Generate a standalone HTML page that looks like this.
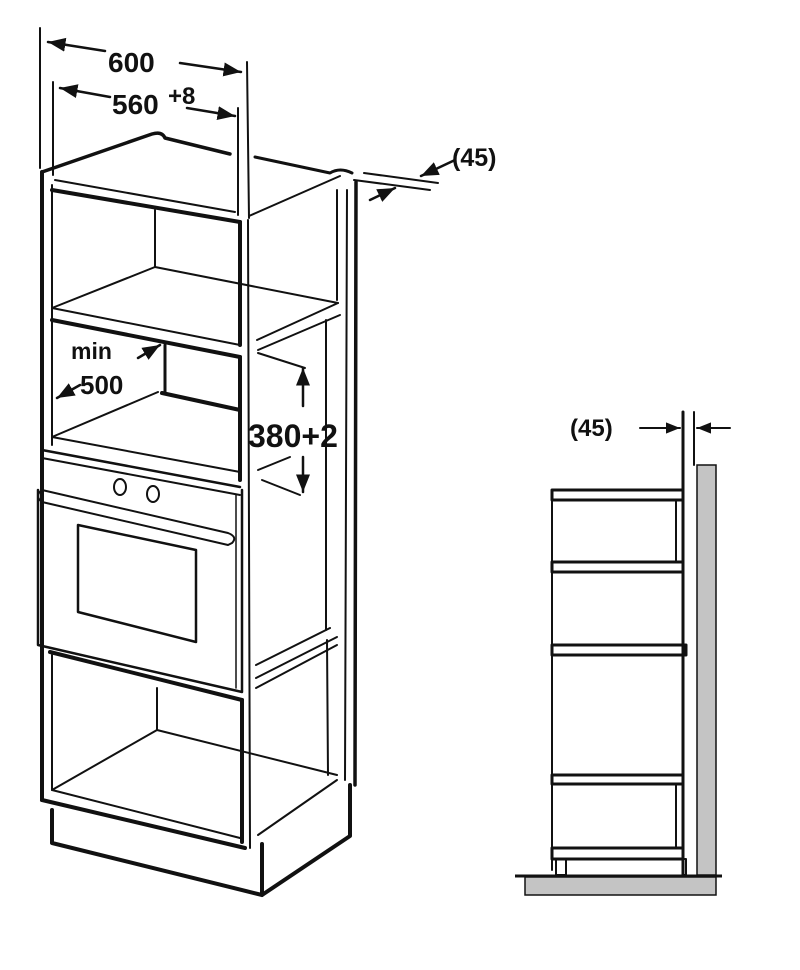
<!DOCTYPE html>
<html><head><meta charset="utf-8"><style>
html,body{margin:0;padding:0;background:#fff;}
svg{display:block;}
text{font-family:"Liberation Sans",sans-serif;font-weight:bold;fill:#111;}
</style></head><body>
<svg width="800" height="970" viewBox="0 0 800 970" xmlns="http://www.w3.org/2000/svg">
<defs>
<marker id="a" viewBox="0 0 10 10" refX="10" refY="5" markerWidth="7" markerHeight="7" orient="auto-start-reverse"><path d="M0,1 L10,5 L0,9 z" fill="#111"/></marker>
</defs>
<g stroke="#111" fill="none" stroke-linecap="round" stroke-linejoin="round">
<line x1="40" y1="28" x2="40" y2="168" stroke-width="2"/>
<line x1="53" y1="82" x2="53" y2="175" stroke-width="2"/>
<line x1="247" y1="62" x2="249" y2="218" stroke-width="2"/>
<line x1="238" y1="108" x2="238" y2="215" stroke-width="2"/>
<line x1="105" y1="51" x2="48" y2="42" stroke-width="2.5" marker-end="url(#a)"/>
<line x1="180" y1="63" x2="241" y2="72" stroke-width="2.5" marker-end="url(#a)"/>
<line x1="110" y1="97" x2="60" y2="88" stroke-width="2.5" marker-end="url(#a)"/>
<line x1="187" y1="108" x2="235" y2="116" stroke-width="2.5" marker-end="url(#a)"/>
<path d="M42,172 L152,134 Q162,131 165,138 L230,154" stroke-width="3.5"/>
<path d="M255,157 L330,173 Q340,167 352,173" stroke-width="3"/>
<line x1="55" y1="180" x2="235" y2="212" stroke-width="2"/>
<line x1="249" y1="216" x2="340" y2="176" stroke-width="2"/>
<line x1="364" y1="173" x2="438" y2="183" stroke-width="2"/>
<line x1="354" y1="180" x2="430" y2="190" stroke-width="2"/>
<line x1="455" y1="160" x2="421" y2="176" stroke-width="2.5" marker-end="url(#a)"/>
<line x1="370" y1="200" x2="395" y2="188" stroke-width="2.5" marker-end="url(#a)"/>
<line x1="42" y1="172" x2="42" y2="800" stroke-width="4"/>
<line x1="52" y1="185" x2="52" y2="445" stroke-width="2"/>
<line x1="337" y1="190" x2="337" y2="300" stroke-width="2"/>
<line x1="347" y1="190" x2="345" y2="780" stroke-width="2"/>
<line x1="356" y1="182" x2="355" y2="785" stroke-width="3.5"/>
<line x1="327" y1="640" x2="328" y2="775" stroke-width="2"/>
<line x1="326" y1="320" x2="326" y2="630" stroke-width="2"/>
<line x1="248" y1="220" x2="250" y2="848" stroke-width="2"/>
<line x1="52" y1="190" x2="240" y2="222" stroke-width="4"/>
<line x1="240" y1="222" x2="240" y2="345" stroke-width="4"/>
<line x1="155" y1="210" x2="155" y2="267" stroke-width="2"/>
<line x1="155" y1="267" x2="338" y2="303" stroke-width="2"/>
<line x1="52" y1="308" x2="155" y2="267" stroke-width="2"/>
<line x1="52" y1="308" x2="240" y2="345" stroke-width="2"/>
<line x1="257" y1="340" x2="338" y2="303" stroke-width="2"/>
<line x1="258" y1="350" x2="340" y2="315" stroke-width="2"/>
<line x1="52" y1="320" x2="240" y2="357" stroke-width="4"/>
<line x1="240" y1="357" x2="240" y2="480" stroke-width="4"/>
<line x1="165" y1="345" x2="165" y2="393" stroke-width="3"/>
<line x1="162" y1="393" x2="240" y2="410" stroke-width="4"/>
<line x1="52" y1="437" x2="158" y2="392" stroke-width="2"/>
<line x1="52" y1="437" x2="240" y2="472" stroke-width="2"/>
<line x1="138" y1="358" x2="160" y2="345" stroke-width="2.5" marker-end="url(#a)"/>
<line x1="80" y1="385" x2="57" y2="398" stroke-width="2.5" marker-end="url(#a)"/>
<line x1="258" y1="353" x2="305" y2="368" stroke-width="2"/>
<line x1="303" y1="406" x2="303" y2="368" stroke-width="2.5" marker-end="url(#a)"/>
<line x1="303" y1="457" x2="303" y2="492" stroke-width="2.5" marker-end="url(#a)"/>
<line x1="258" y1="470" x2="290" y2="457" stroke-width="2"/>
<line x1="262" y1="480" x2="300" y2="495" stroke-width="2"/>
<line x1="42" y1="450" x2="240" y2="487" stroke-width="2.5"/>
<line x1="42" y1="458" x2="240" y2="495" stroke-width="2"/>
<path d="M38,490 L38,645 L242,692 L242,490" stroke-width="2.5"/>
<line x1="236" y1="495" x2="236" y2="688" stroke-width="1.5"/>
<ellipse cx="120" cy="487" rx="6" ry="8" stroke-width="2"/>
<ellipse cx="153" cy="494" rx="6" ry="8" stroke-width="2"/>
<path d="M42,490 L228,533 Q238,537 232,543 L228,545 L42,502 Q34,496 42,490 z" stroke-width="2"/>
<path d="M78,525 L196,550 L196,642 L78,612 z" stroke-width="2.5"/>
<line x1="256" y1="665" x2="330" y2="628" stroke-width="2"/>
<line x1="256" y1="678" x2="337" y2="637" stroke-width="2"/>
<line x1="256" y1="688" x2="337" y2="645" stroke-width="2"/>
<line x1="50" y1="652" x2="242" y2="700" stroke-width="4"/>
<line x1="242" y1="700" x2="242" y2="842" stroke-width="4"/>
<line x1="52" y1="655" x2="52" y2="790" stroke-width="2"/>
<line x1="157" y1="688" x2="157" y2="730" stroke-width="2"/>
<line x1="157" y1="730" x2="337" y2="775" stroke-width="2"/>
<line x1="52" y1="790" x2="157" y2="730" stroke-width="2"/>
<line x1="52" y1="790" x2="240" y2="838" stroke-width="2"/>
<line x1="42" y1="800" x2="245" y2="848" stroke-width="4"/>
<line x1="258" y1="835" x2="337" y2="780" stroke-width="2"/>
<path d="M52,810 L52,843 L262,895 L262,844 M262,895 L350,836 L350,785" stroke-width="4"/>
<line x1="683" y1="412" x2="683" y2="875" stroke-width="3"/>
<line x1="694" y1="412" x2="694" y2="465" stroke-width="2"/>
<line x1="640" y1="428" x2="680" y2="428" stroke-width="2" marker-end="url(#a)"/>
<line x1="730" y1="428" x2="697" y2="428" stroke-width="2" marker-end="url(#a)"/>
<line x1="552" y1="490" x2="552" y2="870" stroke-width="2"/>
<rect x="552" y="490" width="131" height="10" stroke-width="3"/>
<rect x="552" y="562" width="131" height="10" stroke-width="3"/>
<rect x="676" y="500" width="7" height="62" stroke-width="2"/>
<rect x="552" y="645" width="134" height="10" stroke-width="3"/>
<rect x="552" y="775" width="131" height="9" stroke-width="3"/>
<rect x="552" y="848" width="131" height="11" stroke-width="3"/>
<rect x="676" y="784" width="7" height="64" stroke-width="2"/>
<rect x="556" y="859" width="10" height="16" stroke-width="2"/>
<rect x="683" y="859" width="3" height="16" stroke-width="2"/>
</g>
<rect x="697" y="465" width="19" height="410" fill="#c4c4c4" stroke="#111" stroke-width="1.5"/>
<rect x="525" y="877" width="191" height="18" fill="#c4c4c4" stroke="#111" stroke-width="1.5"/>
<line x1="515" y1="876" x2="722" y2="876" stroke="#111" stroke-width="3"/>
<text x="108" y="72" font-size="28">600</text>
<text x="112" y="114" font-size="28">560</text>
<text x="168" y="104" font-size="24">+8</text>
<text x="452" y="166" font-size="25">(45)</text>
<text x="71" y="359" font-size="23">min</text>
<text x="80" y="394" font-size="26">500</text>
<text x="248" y="447" font-size="32">380+2</text>
<text x="570" y="436" font-size="24">(45)</text>
</svg>
</body></html>
